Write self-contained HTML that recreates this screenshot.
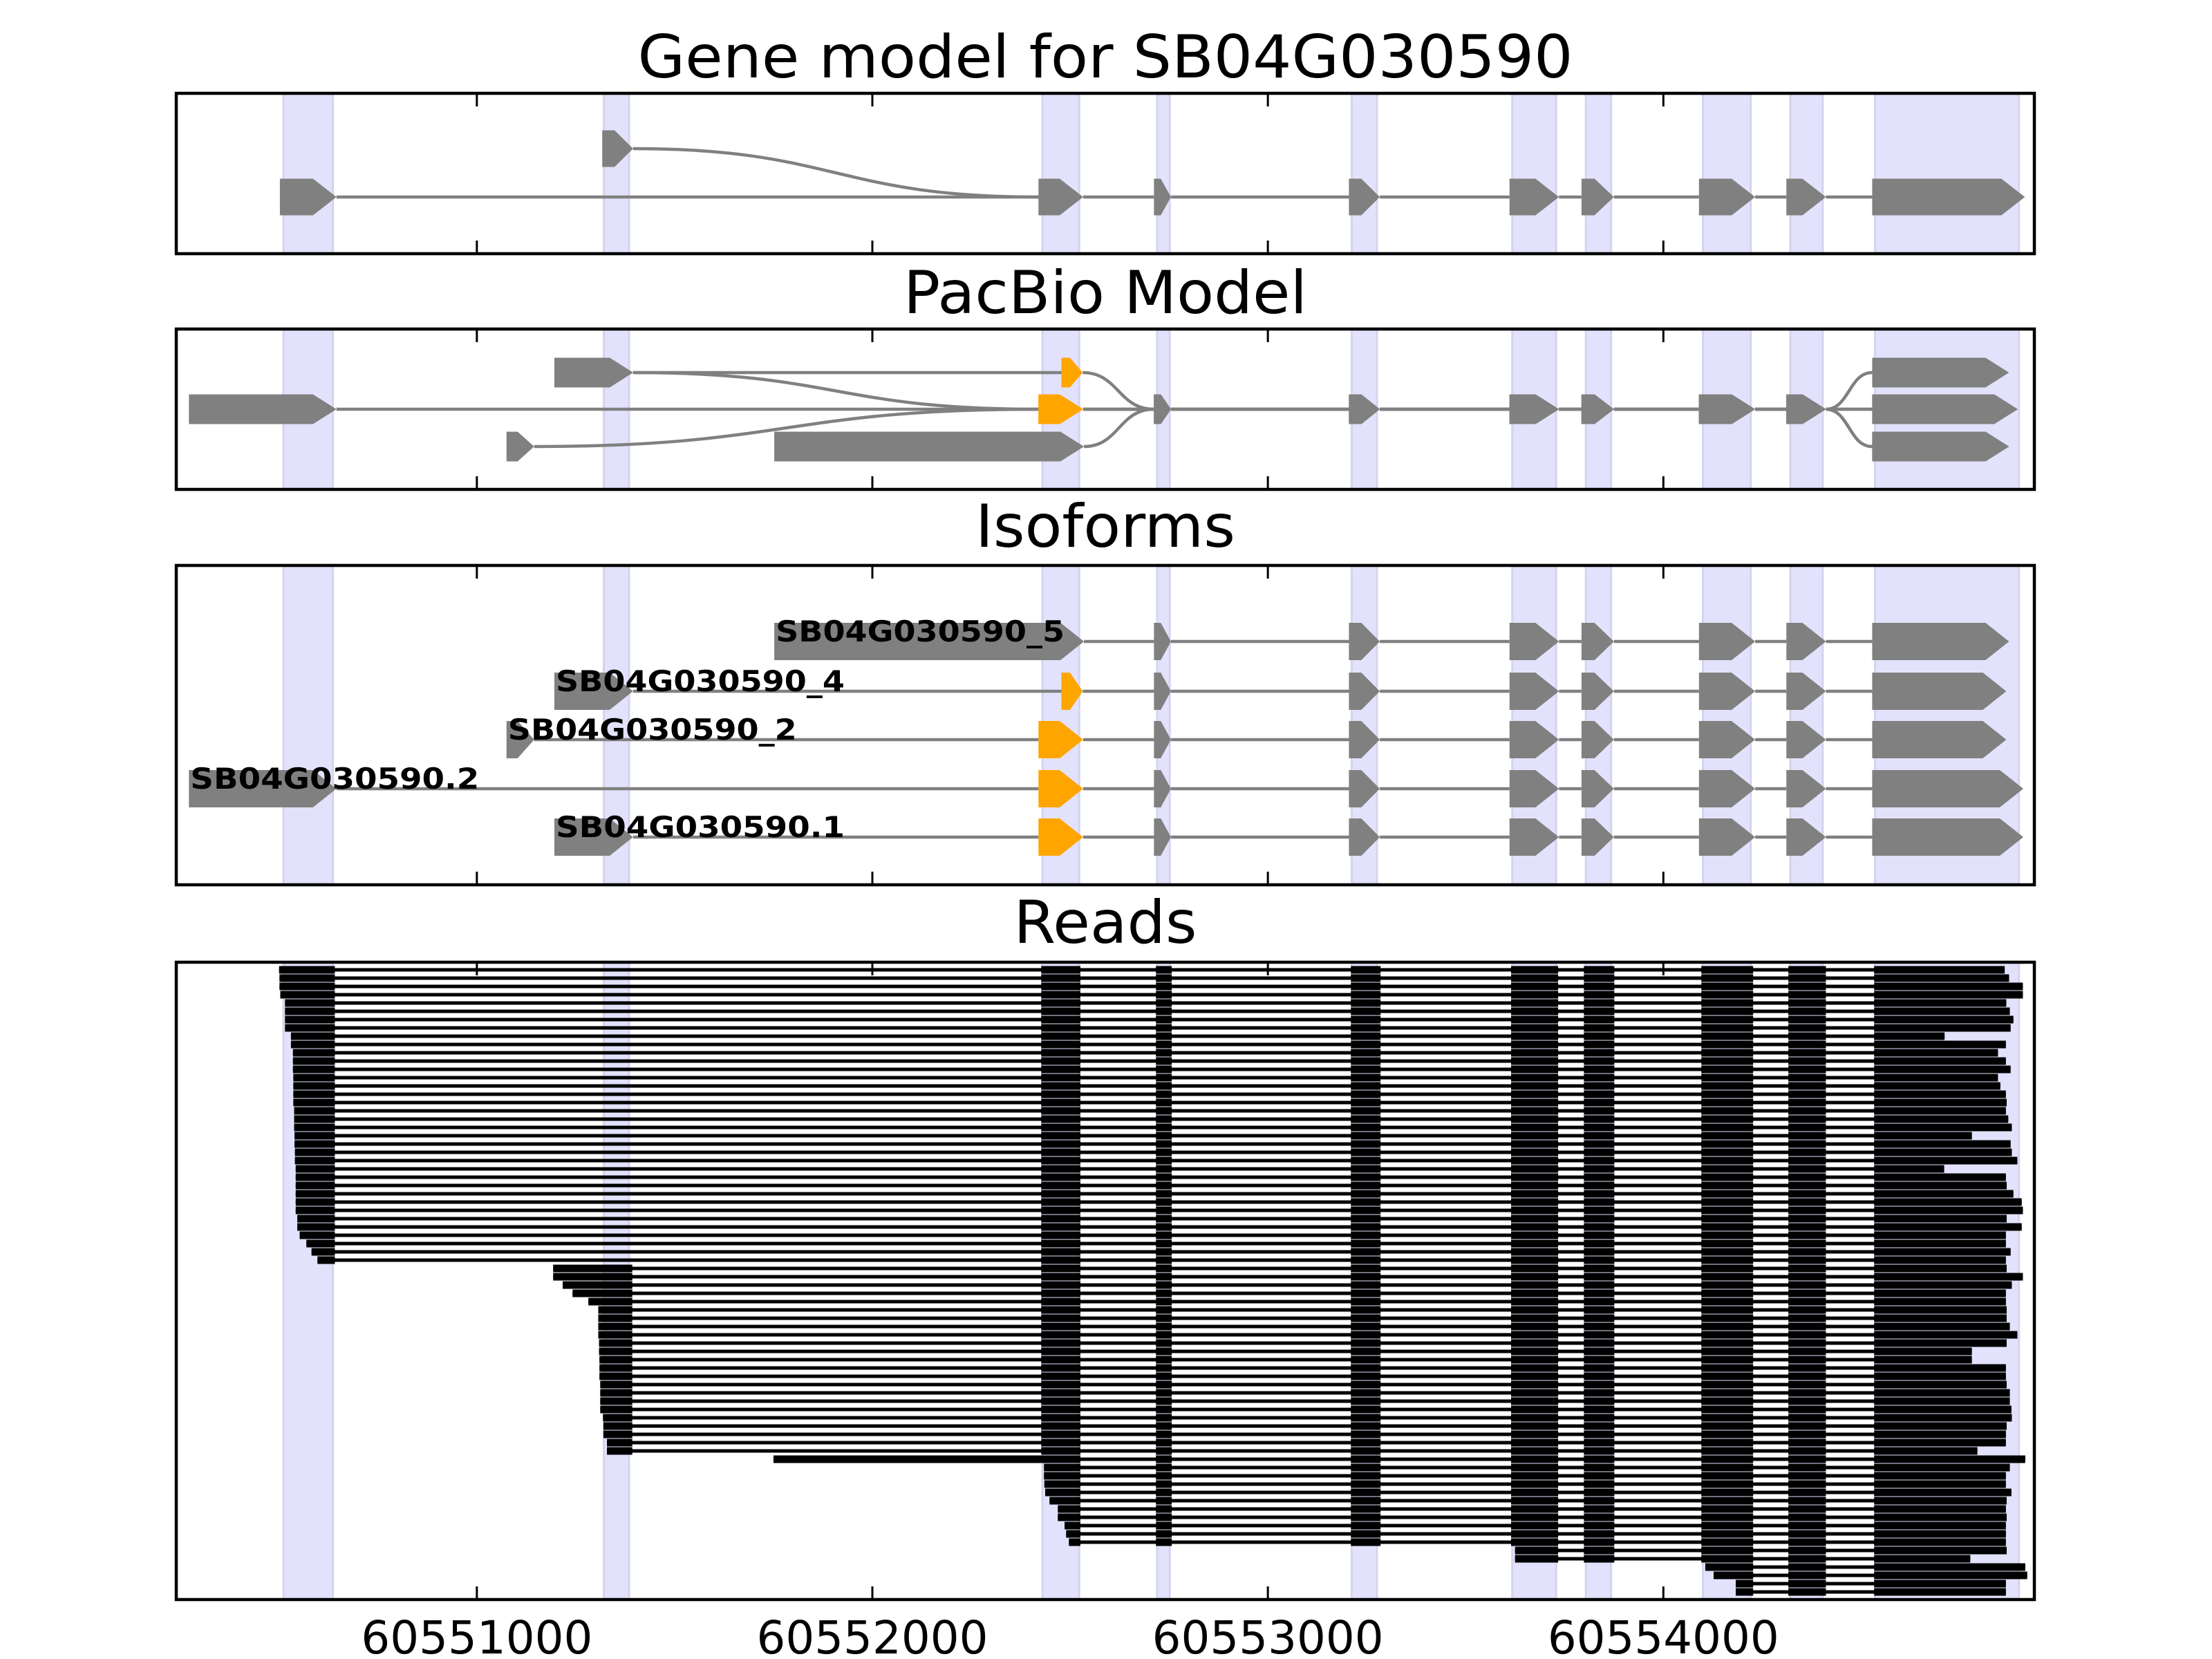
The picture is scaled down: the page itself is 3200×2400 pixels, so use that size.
<!DOCTYPE html>
<html><head><meta charset="utf-8"><style>
html,body{margin:0;padding:0;background:#fff;}
svg{display:block;}
text{font-family:"DejaVu Sans","Liberation Sans",sans-serif;}
</style></head>
<body>
<svg id="chart" xmlns="http://www.w3.org/2000/svg" width="3200" height="2400" viewBox="0 0 3200 2400">
<rect x="0" y="0" width="3200" height="2400" fill="#ffffff"/>
<g id="layer"></g>
</svg>
<script>
// ---- data ----
const tickValues = [60551000, 60552000, 60553000, 60554000];
const tickLabels = ["60551000", "60552000", "60553000", "60554000"];
const shadeStarts = [60550511, 60551321, 60552430, 60552720, 60553212, 60553618, 60553804, 60554100, 60554321, 60554535];
const shadeEnds   = [60550636, 60551385, 60552523, 60552752, 60553276, 60553729, 60553868, 60554221, 60554403, 60554899];
// gene model exons
const geneStarts = [60550502, 60552420, 60552712, 60553205, 60553611, 60553793, 60554090, 60554311, 60554528];
const geneEnds   = [60550645, 60552533, 60552755, 60553283, 60553736, 60553875, 60554232, 60554411, 60554914];
const geneAltExon = [60551317, 60551395];
// shared internal exons (4-9)
const midStarts = [60552712, 60553205, 60553611, 60553793, 60554090, 60554311];
const midEnds   = [60552755, 60553283, 60553736, 60553875, 60554232, 60554411];
const exon10Start = 60554528;
const pacbioEnd10 = [60554874, 60554896, 60554874];
const orangeBig = [60552420, 60552533];
const orangeSmall = [60552478, 60552532];
const pbTopFirst = [60551196, 60551395];
const pbMidFirst = [60550272, 60550645];
const pbBotSmall = [60551075, 60551145];
const pbBotBig = [60551752, 60552535];
// isoforms
const isoNames = ["SB04G030590_5", "SB04G030590_4", "SB04G030590_2", "SB04G030590.2", "SB04G030590.1"];
const isoFirstStart = [60551752, 60551196, 60551075, 60550272, 60551196];
const isoFirstEnd   = [60552535, 60551395, 60551145, 60550645, 60551395];
const isoOrange     = [null, "small", "big", "big", "big"];
const isoEnd10      = [60554874, 60554867, 60554867, 60554910, 60554910];
// reads
const readStart = [60550500,60550501,60550501,60550503,60550515,60550515,60550515,60550515,60550530,60550530,
 60550535,60550535,60550535,60550536,60550536,60550536,60550536,60550538,60550538,60550538,
 60550539,60550539,60550540,60550540,60550542,60550542,60550542,60550542,60550542,60550542,
 60550546,60550546,60550552,60550569,60550582,60550597,
 60551193,60551193,60551217,60551242,60551282,60551307,60551307,60551307,60551307,60551309,
 60551309,60551310,60551310,60551310,60551312,60551312,60551312,60551312,60551319,60551320,
 60551320,60551329,60551329,
 60551750,
 60552434,60552434,60552435,60552437,60552448,60552469,60552469,60552486,60552490,60552497,
 60553625,60553625,60554106,60554127,60554183,60554183];
const readEnd = [60554863,60554874,60554909,60554909,60554867,60554876,60554885,60554878,60554711,60554866,
 60554846,60554866,60554878,60554846,60554852,60554866,60554868,60554866,60554872,60554881,
 60554780,60554878,60554881,60554895,60554710,60554866,60554868,60554885,60554906,60554909,
 60554868,60554906,60554866,60554866,60554878,60554866,60554868,60554909,60554881,60554866,
 60554866,60554868,60554868,60554876,60554895,60554868,60554780,60554780,60554866,60554866,
 60554868,60554876,60554876,60554880,60554881,60554868,60554866,60554866,60554794,60554915,
 60554876,60554866,60554866,60554880,60554868,60554866,60554868,60554866,60554866,60554866,
 60554868,60554776,60554915,60554920,60554866,60554866];
const readExonStarts = [60550400,60551100,60552427,60552717,60553210,60553615,60553799,60554096,60554316,60554533];
const readExonEnds   = [60550641,60551393,60552526,60552757,60553285,60553734,60553876,60554227,60554411,60555000];

// ---- axes ----
const X0 = 255, X1 = 2943, G0 = 60550240, G1 = 60554938;
function X(g){ return X0 + (g - G0) * (X1 - X0) / (G1 - G0); }
const panels = [
  {name:"gene-model-panel", top:135, bottom:367, title:"Gene model for SB04G030590", tb:112, tw:1353},
  {name:"pacbio-panel", top:476, bottom:708, title:"PacBio Model", tb:453, tw:584},
  {name:"isoforms-panel", top:818, bottom:1280, title:"Isoforms", tb:791, tw:376},
  {name:"reads-panel", top:1392, bottom:2314, title:"Reads", tb:1364, tw:265}
];
const NS = "http://www.w3.org/2000/svg";
const layer = document.getElementById("layer");
function el(tag, attrs, parent){
  const e = document.createElementNS(NS, tag);
  for (const k in attrs) e.setAttribute(k, attrs[k]);
  (parent || layer).appendChild(e);
  return e;
}
const GRAY = "#808080", ORANGE = "#ffa500";
function exonShape(g, s, e, y, h, color, name){
  const x1 = X(s), x2 = X(e);
  const w = x2 - x1;
  const tip = Math.min(34, w * 0.6);
  const p = el("polygon", {points:
    x1+","+(y-h/2)+" "+(x2-tip)+","+(y-h/2)+" "+x2+","+y+" "+(x2-tip)+","+(y+h/2)+" "+x1+","+(y+h/2),
    fill:color}, g);
  
  
  return p;
}
function connect(g, ga, ya, gb, yb){
  const xa = X(ga), xb = X(gb);
  let p;
  if (ya === yb) p = el("line", {x1:xa, y1:ya, x2:xb, y2:yb, stroke:GRAY, "stroke-width":4.5}, g);
  else {
    const xm = (xa + xb) / 2;
    p = el("path", {d:"M"+xa+","+ya+" C"+xm+","+ya+" "+xm+","+yb+" "+xb+","+yb, fill:"none", stroke:GRAY, "stroke-width":4.5}, g);
  }
  
  
}
function drawTranscript(g, exons, h){
  for (let i = 0; i < exons.length - 1; i++) connect(g, exons[i].e, exons[i].y, exons[i+1].s, exons[i+1].y);
  exons.forEach(x => exonShape(g, x.s, x.e, x.y, h, x.c || GRAY, x.c === ORANGE ? "alt-exon-orange" : "exon"));
}

panels.forEach((P, pi) => {
  const g = el("g", {});
  
  
  for (let i = 0; i < shadeStarts.length; i++) {
    const r = el("rect", {x:X(shadeStarts[i]), y:P.top, width:X(shadeEnds[i]) - X(shadeStarts[i]), height:P.bottom - P.top,
      fill:"#e2e2fc", stroke:"#d4d4f0", "stroke-width":3}, g);
    
    
  }
  P.g = g;
  const t = el("text", {x:(X0+X1)/2, y:P.tb, "text-anchor":"middle", "font-size":86, textLength:P.tw, lengthAdjust:"spacingAndGlyphs", fill:"#000"});
  t.textContent = P.title;
  
  
});

// panel 1: gene model
(function(){
  const g = panels[0].g, yM = 285, yA = 215, h = 53;
  const main = geneStarts.map((s, i) => ({s:s, e:geneEnds[i], y:yM}));
  drawTranscript(g, main, h);
  connect(g, geneAltExon[1], yA, geneStarts[1], yM);
  exonShape(g, geneAltExon[0], geneAltExon[1], yA, h, GRAY, "alt-first-exon");
})();

// panel 2: pacbio
(function(){
  const g = panels[1].g, ys = [539, 592, 646], h = 43;
  const mids = r => midStarts.map((s, i) => ({s:s, e:midEnds[i], y:ys[1]}));
  const tail = r => mids().concat([{s:exon10Start, e:pacbioEnd10[r], y:ys[r]}]);
  const ob = {s:orangeBig[0], e:orangeBig[1], y:ys[1], c:ORANGE};
  drawTranscript(g, [{s:pbTopFirst[0], e:pbTopFirst[1], y:ys[0]}, {s:orangeSmall[0], e:orangeSmall[1], y:ys[0], c:ORANGE}].concat(tail(0)), h);
  drawTranscript(g, [{s:pbTopFirst[0], e:pbTopFirst[1], y:ys[0]}, ob].concat(tail(1)), h);
  drawTranscript(g, [{s:pbMidFirst[0], e:pbMidFirst[1], y:ys[1]}, ob].concat(tail(1)), h);
  drawTranscript(g, [{s:pbBotSmall[0], e:pbBotSmall[1], y:ys[2]}, ob].concat(tail(2)), h);
  drawTranscript(g, [{s:pbBotBig[0], e:pbBotBig[1], y:ys[2]}].concat(tail(2)), h);
})();

// panel 3: isoforms
(function(){
  const g = panels[2].g, ys = [928, 1000, 1070, 1141, 1211], h = 54;
  isoNames.forEach((name, i) => {
    const y = ys[i];
    let ex = [{s:isoFirstStart[i], e:isoFirstEnd[i], y:y}];
    if (isoOrange[i] === "small") ex.push({s:orangeSmall[0], e:orangeSmall[1], y:y, c:ORANGE});
    if (isoOrange[i] === "big") ex.push({s:orangeBig[0], e:orangeBig[1], y:y, c:ORANGE});
    ex = ex.concat(midStarts.map((s, j) => ({s:s, e:midEnds[j], y:y})));
    ex.push({s:exon10Start, e:isoEnd10[i], y:y});
    drawTranscript(g, ex, h);
    const t = el("text", {x:X(isoFirstStart[i]) + 2, y:y, "font-size":42, "font-weight":"bold", textLength:418, lengthAdjust:"spacingAndGlyphs", fill:"#000"}, g);
    t.textContent = name;
    
    
  });
})();

// panel 4: reads
(function(){
  const g = panels[3].g, y0 = 1403, dy = 12.0, h = 11;
  for (let r = 0; r < readStart.length; r++) {
    const s = readStart[r], e = readEnd[r], y = y0 + r * dy;
    const ln = el("rect", {x:X(s), y:y - 2.5, width:X(e) - X(s), height:5, fill:"#000"}, g);
    
    
    let i0 = 0;
    while (i0 < readExonEnds.length && readExonEnds[i0] <= s) i0++;
    const blocks = [[s, Math.min(readExonEnds[i0], e)]];
    for (let j = i0 + 1; j < readExonStarts.length; j++) {
      if (j === 1) continue;
      if (readExonStarts[j] >= e) break;
      blocks.push([readExonStarts[j], Math.min(readExonEnds[j], e)]);
    }
    blocks.forEach(b => {
      const bl = el("rect", {x:X(b[0]), y:y - h/2, width:X(b[1]) - X(b[0]), height:h, fill:"#000"}, g);
      
      
    });
  }
})();

// frames, ticks
panels.forEach((P, pi) => {
  const f = el("rect", {x:X0, y:P.top, width:X1 - X0, height:P.bottom - P.top, fill:"none", stroke:"#000", "stroke-width":4.5});
  
  
  tickValues.forEach((v, i) => {
    const x = X(v);
    const t1 = el("line", {x1:x, y1:P.top, x2:x, y2:P.top + 19, stroke:"#000", "stroke-width":3});
    
    
    const t2 = el("line", {x1:x, y1:P.bottom, x2:x, y2:P.bottom - 19, stroke:"#000", "stroke-width":3});
    
    
    if (pi === panels.length - 1) {
      const lab = el("text", {x:x, y:2392, "text-anchor":"middle", "font-size":66, textLength:335, lengthAdjust:"spacingAndGlyphs", fill:"#000"});
      lab.textContent = tickLabels[i];
      
      
    }
  });
});
</script>
</body></html>
